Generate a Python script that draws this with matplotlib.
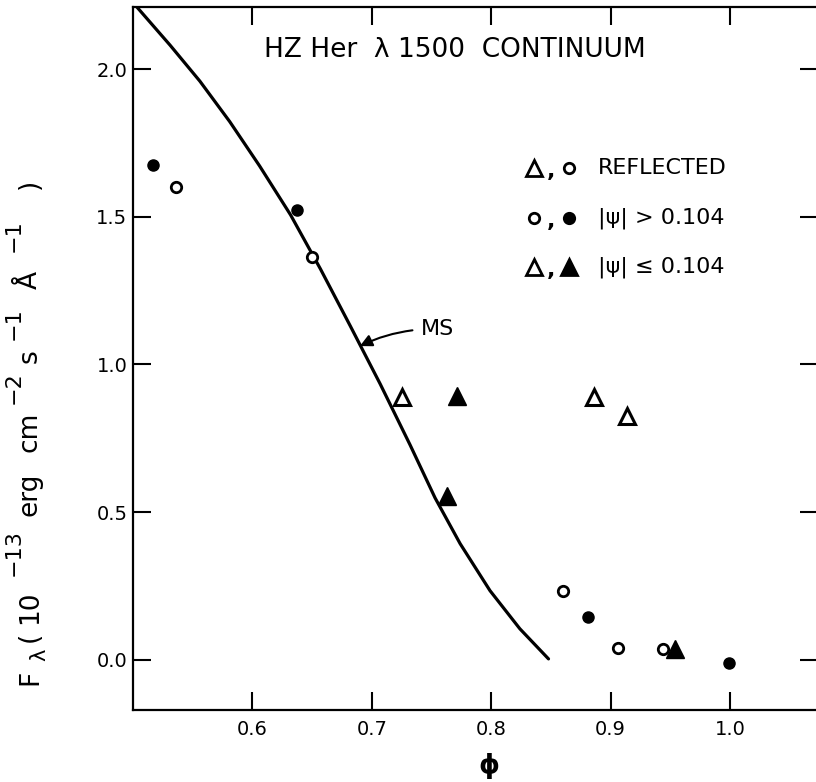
import numpy as np
import matplotlib
matplotlib.use("Agg")
import matplotlib.pyplot as plt

plt.rcParams['font.family'] = ['DejaVu Sans']
plt.rcParams['mathtext.default'] = 'regular'

# MS model curve (phase, flux)
ms_phase = [0.500, 0.531, 0.556, 0.581, 0.606, 0.632, 0.657, 0.682, 0.707,
            0.732, 0.753, 0.774, 0.799, 0.824, 0.848]
ms_flux = [2.225, 2.081, 1.959, 1.822, 1.672, 1.506, 1.323, 1.130, 0.934,
           0.728, 0.548, 0.393, 0.234, 0.105, 0.003]

# observed points
fill_circ_x = [0.517, 0.637, 0.881, 0.999]
fill_circ_y = [1.675, 1.523, 0.146, -0.010]
open_circ_x = [0.536, 0.650, 0.860, 0.906, 0.944]
open_circ_y = [1.601, 1.364, 0.234, 0.041, 0.037]
open_tri_x = [0.725, 0.886, 0.914]
open_tri_y = [0.890, 0.890, 0.826]
fill_tri_x = [0.771, 0.763, 0.954]
fill_tri_y = [0.893, 0.556, 0.037]

xticks = [0.6, 0.7, 0.8, 0.9, 1.0]
yticks = [0.0, 0.5, 1.0, 1.5, 2.0]

W, H = 816, 782
fig = plt.figure(figsize=(W/100, H/100), dpi=100)
ax = fig.add_axes([133/W, 72/H, 685/W, 703/H])

ax.plot(ms_phase, ms_flux, color='black', lw=2.3,
        solid_capstyle='round', solid_joinstyle='round')

ax.plot(fill_circ_x, fill_circ_y, 'o', ms=8, mfc='black', mec='black', ls='none')
ax.plot(open_circ_x, open_circ_y, 'o', ms=7.5, mfc='white', mec='black', mew=2, ls='none')
ax.plot(open_tri_x, open_tri_y, '^', ms=12, mfc='white', mec='black', mew=2.2, ls='none')
ax.plot(fill_tri_x, fill_tri_y, '^', ms=13, mfc='black', mec='black', ls='none')

ax.set_xlim(0.5, 1.0737)
ax.set_ylim(-0.17, 2.21)
ax.set_xticks(xticks)
ax.set_yticks(yticks)
ax.set_xticklabels(['%.1f' % v for v in xticks])
ax.set_yticklabels(['%.1f' % v for v in yticks])
ax.tick_params(direction='in', length=13, width=1.5, labelsize=14,
               top=True, right=True, labeltop=False, labelright=False)
ax.tick_params(axis='x', pad=7)
ax.tick_params(axis='y', pad=4)
for s in ax.spines.values():
    s.set_linewidth(1.6)

# y label, set piece by piece so the exponents stay full size
# (text, baseline x px, centre y px, size)
ylab = [('F', 37, 677, 19), ('λ', 45, 655, 15), ('(', 37, 637, 19),
        ('10', 37, 607, 19), ('−13', 20, 553, 16), ('erg', 37, 494, 19),
        ('cm', 37, 432, 19), ('−2', 20, 388, 16), ('s', 37, 356, 19),
        ('−1', 20, 324, 16), ('Å', 37, 280, 19), ('−1', 20, 236, 16),
        (')', 37, 184, 19)]
for txt, px, py, fs in ylab:
    fig.text(px/W, 1 - py/H, txt, rotation=90, rotation_mode='anchor',
             ha='center', va='baseline', fontsize=fs)

ax.set_xlabel('ϕ', fontsize=19, fontweight='bold')
ax.xaxis.set_label_coords(0.52, -0.079)
ax.xaxis.label.set_va('center')

ax.text(0.470, 0.939, 'HZ Her  λ 1500  CONTINUUM', transform=ax.transAxes,
        ha='center', va='center', fontsize=19)

ax.annotate('MS', xy=(0.690, 1.062), xytext=(0.741, 1.12), fontsize=16,
            ha='left', va='center',
            arrowprops=dict(arrowstyle='-|>', color='black', lw=1.5,
                            mutation_scale=18, shrinkA=4, shrinkB=0,
                            connectionstyle='arc3,rad=0.12'))

# legend drawn by hand
rows = [(0.771, ('^', 'white'), ('o', 'white'), 'REFLECTED'),
        (0.700, ('o', 'white'), ('o', 'black'), '|ψ| > 0.104'),
        (0.630, ('^', 'white'), ('^', 'black'), '|ψ| ≤ 0.104')]
for yy, m1, m2, lab in rows:
    for xx, (mk, fc) in [(0.586, m1), (0.636, m2)]:
        size = 12 if mk == '^' else 7.5
        ax.plot([xx], [yy], mk, ms=size, mfc=fc, mec='black', mew=2,
                transform=ax.transAxes, clip_on=False)
    ax.text(0.610, yy - 0.004, ',', transform=ax.transAxes, ha='center',
            va='center', fontsize=16, fontweight='bold')
    ax.text(0.679, yy, lab, transform=ax.transAxes, ha='left', va='center',
            fontsize=16)

fig.savefig('out.png', dpi=100)
